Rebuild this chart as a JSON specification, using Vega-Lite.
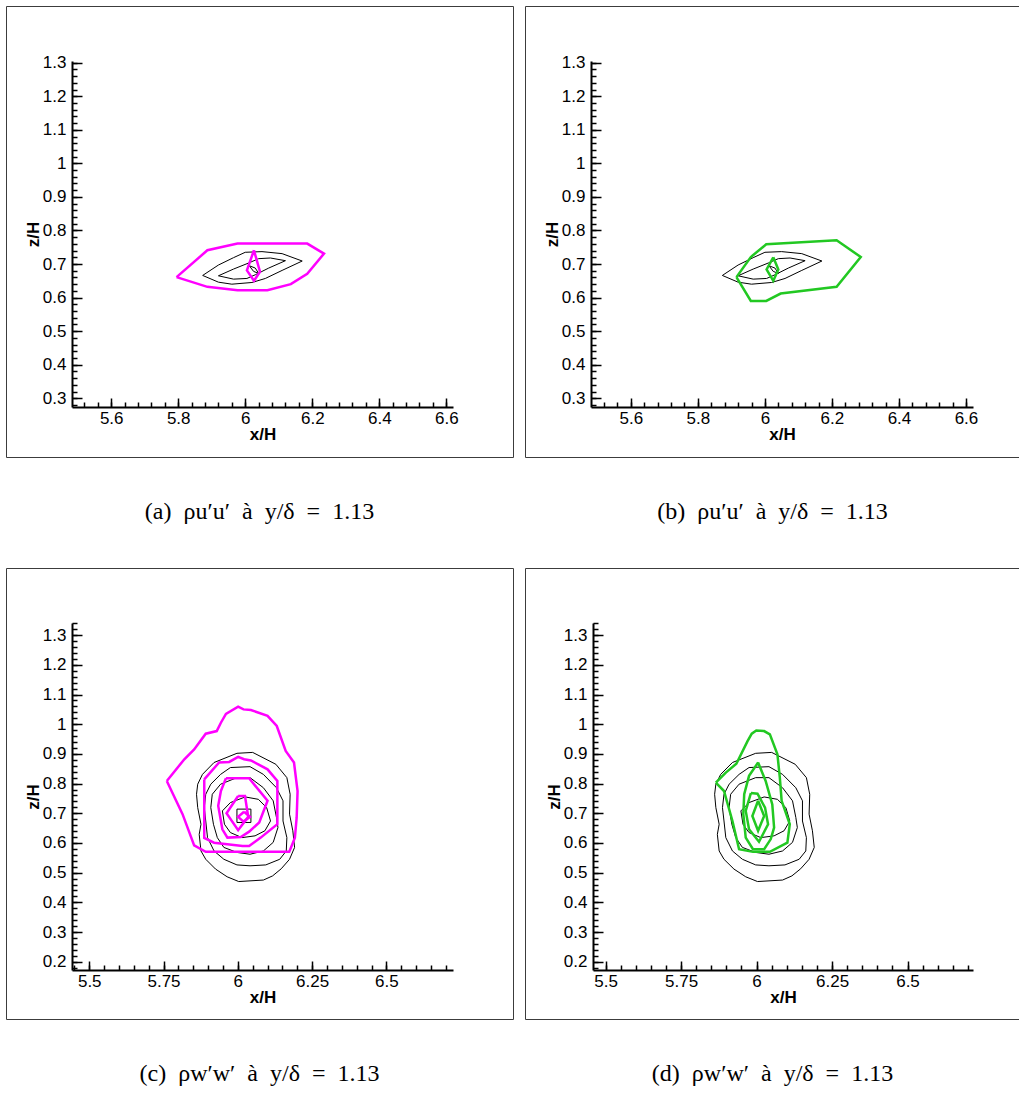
{
  "$schema": "https://vega.github.io/schema/vega-lite/v6.json",
  "padding": {"left": 5, "top": 5, "right": 0, "bottom": 0},
  "background": "white",
  "config": {
    "view": {"stroke": "#3c3c3c", "strokeWidth": 1},
    "axis": {
      "labelFont": "Liberation Sans", "labelFontSize": 17, "labelColor": "black",
      "tickColor": "black", "tickWidth": 1.5, "domainColor": "black", "domainWidth": 2,
      "titleFont": "Liberation Sans", "titleFontSize": 17, "titleFontWeight": "bold", "titleColor": "black",
      "grid": false, "labelFlush": false, "labelOverlap": false
    },
    "title": {"font": "Liberation Serif", "fontSize": 24, "fontWeight": "normal", "color": "black", "orient": "bottom", "anchor": "middle", "offset": 43}
  },
  "datasets": {
    "kTop": [
      {"c": "1", "o": 1, "x": 5.873, "z": 0.666}, {"c": "1", "o": 2, "x": 5.92, "z": 0.697}, {"c": "1", "o": 3, "x": 5.965, "z": 0.719},
      {"c": "1", "o": 4, "x": 6.0, "z": 0.735}, {"c": "1", "o": 5, "x": 6.05, "z": 0.737}, {"c": "1", "o": 6, "x": 6.11, "z": 0.731},
      {"c": "1", "o": 7, "x": 6.17, "z": 0.709}, {"c": "1", "o": 8, "x": 6.11, "z": 0.681}, {"c": "1", "o": 9, "x": 6.06, "z": 0.657},
      {"c": "1", "o": 10, "x": 6.02, "z": 0.645}, {"c": "1", "o": 11, "x": 5.96, "z": 0.64}, {"c": "1", "o": 12, "x": 5.92, "z": 0.646},
      {"c": "1", "o": 13, "x": 5.873, "z": 0.666},
      {"c": "2", "o": 1, "x": 5.92, "z": 0.665}, {"c": "2", "o": 2, "x": 5.965, "z": 0.685}, {"c": "2", "o": 3, "x": 6.01, "z": 0.703},
      {"c": "2", "o": 4, "x": 6.04, "z": 0.716}, {"c": "2", "o": 5, "x": 6.075, "z": 0.718}, {"c": "2", "o": 6, "x": 6.12, "z": 0.71},
      {"c": "2", "o": 7, "x": 6.07, "z": 0.688}, {"c": "2", "o": 8, "x": 6.03, "z": 0.668}, {"c": "2", "o": 9, "x": 6.005, "z": 0.657},
      {"c": "2", "o": 10, "x": 5.965, "z": 0.655}, {"c": "2", "o": 11, "x": 5.92, "z": 0.665},
      {"c": "3", "o": 1, "x": 6.012, "z": 0.695}, {"c": "3", "o": 2, "x": 6.03, "z": 0.688}, {"c": "3", "o": 3, "x": 6.04, "z": 0.672},
      {"c": "3", "o": 4, "x": 6.025, "z": 0.678}, {"c": "3", "o": 5, "x": 6.012, "z": 0.695}
    ],
    "mA": [
      {"c": "1", "o": 1, "x": 5.795, "z": 0.661}, {"c": "1", "o": 2, "x": 5.887, "z": 0.741}, {"c": "1", "o": 3, "x": 5.977, "z": 0.761},
      {"c": "1", "o": 4, "x": 6.185, "z": 0.761}, {"c": "1", "o": 5, "x": 6.235, "z": 0.731}, {"c": "1", "o": 6, "x": 6.185, "z": 0.671},
      {"c": "1", "o": 7, "x": 6.136, "z": 0.64}, {"c": "1", "o": 8, "x": 6.066, "z": 0.622}, {"c": "1", "o": 9, "x": 5.977, "z": 0.622},
      {"c": "1", "o": 10, "x": 5.887, "z": 0.632}, {"c": "1", "o": 11, "x": 5.795, "z": 0.661},
      {"c": "2", "o": 1, "x": 6.026, "z": 0.741}, {"c": "2", "o": 2, "x": 6.044, "z": 0.677}, {"c": "2", "o": 3, "x": 6.026, "z": 0.65},
      {"c": "2", "o": 4, "x": 6.005, "z": 0.681}, {"c": "2", "o": 5, "x": 6.026, "z": 0.741}
    ],
    "gB": [
      {"c": "1", "o": 1, "x": 5.915, "z": 0.661}, {"c": "1", "o": 2, "x": 5.958, "z": 0.721}, {"c": "1", "o": 3, "x": 6.004, "z": 0.759},
      {"c": "1", "o": 4, "x": 6.214, "z": 0.771}, {"c": "1", "o": 5, "x": 6.286, "z": 0.721}, {"c": "1", "o": 6, "x": 6.214, "z": 0.632},
      {"c": "1", "o": 7, "x": 6.047, "z": 0.612}, {"c": "1", "o": 8, "x": 6.004, "z": 0.59}, {"c": "1", "o": 9, "x": 5.958, "z": 0.59},
      {"c": "1", "o": 10, "x": 5.915, "z": 0.661},
      {"c": "2", "o": 1, "x": 6.025, "z": 0.72}, {"c": "2", "o": 2, "x": 6.04, "z": 0.684}, {"c": "2", "o": 3, "x": 6.025, "z": 0.65},
      {"c": "2", "o": 4, "x": 6.005, "z": 0.684}, {"c": "2", "o": 5, "x": 6.025, "z": 0.72}
    ],
    "kBot": [
      {"c": "1", "o": 1, "x": 5.92, "z": 0.871}, {"c": "1", "o": 2, "x": 5.997, "z": 0.902}, {"c": "1", "o": 3, "x": 6.05, "z": 0.905},
      {"c": "1", "o": 4, "x": 6.128, "z": 0.865}, {"c": "1", "o": 5, "x": 6.165, "z": 0.82}, {"c": "1", "o": 6, "x": 6.176, "z": 0.764},
      {"c": "1", "o": 7, "x": 6.174, "z": 0.697}, {"c": "1", "o": 8, "x": 6.185, "z": 0.641}, {"c": "1", "o": 9, "x": 6.191, "z": 0.585},
      {"c": "1", "o": 10, "x": 6.174, "z": 0.545}, {"c": "1", "o": 11, "x": 6.146, "z": 0.513}, {"c": "1", "o": 12, "x": 6.117, "z": 0.489},
      {"c": "1", "o": 13, "x": 6.086, "z": 0.475}, {"c": "1", "o": 14, "x": 6.003, "z": 0.47}, {"c": "1", "o": 15, "x": 5.964, "z": 0.486},
      {"c": "1", "o": 16, "x": 5.925, "z": 0.512}, {"c": "1", "o": 17, "x": 5.892, "z": 0.545}, {"c": "1", "o": 18, "x": 5.876, "z": 0.573},
      {"c": "1", "o": 19, "x": 5.87, "z": 0.629}, {"c": "1", "o": 20, "x": 5.876, "z": 0.663}, {"c": "1", "o": 21, "x": 5.865, "z": 0.719},
      {"c": "1", "o": 22, "x": 5.861, "z": 0.764}, {"c": "1", "o": 23, "x": 5.865, "z": 0.798}, {"c": "1", "o": 24, "x": 5.881, "z": 0.831},
      {"c": "1", "o": 25, "x": 5.92, "z": 0.871},
      {"c": "2", "o": 1, "x": 5.975, "z": 0.854}, {"c": "2", "o": 2, "x": 6.041, "z": 0.857}, {"c": "2", "o": 3, "x": 6.086, "z": 0.831},
      {"c": "2", "o": 4, "x": 6.13, "z": 0.786}, {"c": "2", "o": 5, "x": 6.152, "z": 0.742}, {"c": "2", "o": 6, "x": 6.152, "z": 0.674},
      {"c": "2", "o": 7, "x": 6.165, "z": 0.618}, {"c": "2", "o": 8, "x": 6.163, "z": 0.573}, {"c": "2", "o": 9, "x": 6.141, "z": 0.545},
      {"c": "2", "o": 10, "x": 6.094, "z": 0.526}, {"c": "2", "o": 11, "x": 6.041, "z": 0.523}, {"c": "2", "o": 12, "x": 5.997, "z": 0.526},
      {"c": "2", "o": 13, "x": 5.953, "z": 0.545}, {"c": "2", "o": 14, "x": 5.92, "z": 0.573}, {"c": "2", "o": 15, "x": 5.898, "z": 0.618},
      {"c": "2", "o": 16, "x": 5.892, "z": 0.674}, {"c": "2", "o": 17, "x": 5.887, "z": 0.719}, {"c": "2", "o": 18, "x": 5.892, "z": 0.764},
      {"c": "2", "o": 19, "x": 5.909, "z": 0.798}, {"c": "2", "o": 20, "x": 5.942, "z": 0.831}, {"c": "2", "o": 21, "x": 5.975, "z": 0.854},
      {"c": "3", "o": 1, "x": 5.997, "z": 0.82}, {"c": "3", "o": 2, "x": 6.041, "z": 0.82}, {"c": "3", "o": 3, "x": 6.086, "z": 0.786},
      {"c": "3", "o": 4, "x": 6.119, "z": 0.742}, {"c": "3", "o": 5, "x": 6.13, "z": 0.686}, {"c": "3", "o": 6, "x": 6.135, "z": 0.652},
      {"c": "3", "o": 7, "x": 6.119, "z": 0.602}, {"c": "3", "o": 8, "x": 6.086, "z": 0.573}, {"c": "3", "o": 9, "x": 6.041, "z": 0.562},
      {"c": "3", "o": 10, "x": 5.997, "z": 0.568}, {"c": "3", "o": 11, "x": 5.953, "z": 0.585}, {"c": "3", "o": 12, "x": 5.931, "z": 0.618},
      {"c": "3", "o": 13, "x": 5.918, "z": 0.663}, {"c": "3", "o": 14, "x": 5.909, "z": 0.719}, {"c": "3", "o": 15, "x": 5.914, "z": 0.764},
      {"c": "3", "o": 16, "x": 5.942, "z": 0.798}, {"c": "3", "o": 17, "x": 5.997, "z": 0.82},
      {"c": "4", "o": 1, "x": 5.948, "z": 0.708}, {"c": "4", "o": 2, "x": 5.975, "z": 0.736}, {"c": "4", "o": 3, "x": 6.025, "z": 0.755},
      {"c": "4", "o": 4, "x": 6.069, "z": 0.747}, {"c": "4", "o": 5, "x": 6.097, "z": 0.719}, {"c": "4", "o": 6, "x": 6.11, "z": 0.674},
      {"c": "4", "o": 7, "x": 6.091, "z": 0.641}, {"c": "4", "o": 8, "x": 6.058, "z": 0.624}, {"c": "4", "o": 9, "x": 6.014, "z": 0.618},
      {"c": "4", "o": 10, "x": 5.975, "z": 0.635}, {"c": "4", "o": 11, "x": 5.955, "z": 0.663}, {"c": "4", "o": 12, "x": 5.948, "z": 0.708}
    ],
    "sqC": [
      {"c": "1", "o": 1, "x": 5.997, "z": 0.714}, {"c": "1", "o": 2, "x": 6.044, "z": 0.714}, {"c": "1", "o": 3, "x": 6.044, "z": 0.669},
      {"c": "1", "o": 4, "x": 5.997, "z": 0.669}, {"c": "1", "o": 5, "x": 5.997, "z": 0.714}
    ],
    "mC": [
      {"c": "1", "o": 1, "x": 5.761, "z": 0.809}, {"c": "1", "o": 2, "x": 5.82, "z": 0.882}, {"c": "1", "o": 3, "x": 5.853, "z": 0.915},
      {"c": "1", "o": 4, "x": 5.892, "z": 0.968}, {"c": "1", "o": 5, "x": 5.929, "z": 0.977}, {"c": "1", "o": 6, "x": 5.943, "z": 1.005},
      {"c": "1", "o": 7, "x": 5.96, "z": 1.035}, {"c": "1", "o": 8, "x": 6.001, "z": 1.059}, {"c": "1", "o": 9, "x": 6.019, "z": 1.05},
      {"c": "1", "o": 10, "x": 6.044, "z": 1.048}, {"c": "1", "o": 11, "x": 6.1, "z": 1.028}, {"c": "1", "o": 12, "x": 6.131, "z": 0.994},
      {"c": "1", "o": 13, "x": 6.161, "z": 0.91}, {"c": "1", "o": 14, "x": 6.189, "z": 0.871}, {"c": "1", "o": 15, "x": 6.201, "z": 0.775},
      {"c": "1", "o": 16, "x": 6.198, "z": 0.686}, {"c": "1", "o": 17, "x": 6.192, "z": 0.618}, {"c": "1", "o": 18, "x": 6.173, "z": 0.57},
      {"c": "1", "o": 19, "x": 5.892, "z": 0.57}, {"c": "1", "o": 20, "x": 5.853, "z": 0.592}, {"c": "1", "o": 21, "x": 5.814, "z": 0.697},
      {"c": "1", "o": 22, "x": 5.761, "z": 0.809},
      {"c": "2", "o": 1, "x": 5.887, "z": 0.814}, {"c": "2", "o": 2, "x": 5.937, "z": 0.871}, {"c": "2", "o": 3, "x": 5.971, "z": 0.873},
      {"c": "2", "o": 4, "x": 6.001, "z": 0.89}, {"c": "2", "o": 5, "x": 6.021, "z": 0.882}, {"c": "2", "o": 6, "x": 6.044, "z": 0.878},
      {"c": "2", "o": 7, "x": 6.1, "z": 0.848}, {"c": "2", "o": 8, "x": 6.133, "z": 0.809}, {"c": "2", "o": 9, "x": 6.133, "z": 0.663},
      {"c": "2", "o": 10, "x": 6.077, "z": 0.618}, {"c": "2", "o": 11, "x": 6.038, "z": 0.59}, {"c": "2", "o": 12, "x": 6.016, "z": 0.59},
      {"c": "2", "o": 13, "x": 5.92, "z": 0.601}, {"c": "2", "o": 14, "x": 5.887, "z": 0.617}, {"c": "2", "o": 15, "x": 5.887, "z": 0.814},
      {"c": "3", "o": 1, "x": 5.96, "z": 0.818}, {"c": "3", "o": 2, "x": 6.038, "z": 0.818}, {"c": "3", "o": 3, "x": 6.1, "z": 0.742},
      {"c": "3", "o": 4, "x": 6.072, "z": 0.669}, {"c": "3", "o": 5, "x": 6.038, "z": 0.638}, {"c": "3", "o": 6, "x": 6.01, "z": 0.62},
      {"c": "3", "o": 7, "x": 5.965, "z": 0.618}, {"c": "3", "o": 8, "x": 5.948, "z": 0.646}, {"c": "3", "o": 9, "x": 5.934, "z": 0.725},
      {"c": "3", "o": 10, "x": 5.943, "z": 0.775}, {"c": "3", "o": 11, "x": 5.96, "z": 0.818},
      {"c": "4", "o": 1, "x": 6.001, "z": 0.758}, {"c": "4", "o": 2, "x": 6.024, "z": 0.758}, {"c": "4", "o": 3, "x": 6.035, "z": 0.688},
      {"c": "4", "o": 4, "x": 6.001, "z": 0.643}, {"c": "4", "o": 5, "x": 5.962, "z": 0.7}, {"c": "4", "o": 6, "x": 6.001, "z": 0.758},
      {"c": "5", "o": 1, "x": 6.021, "z": 0.705}, {"c": "5", "o": 2, "x": 6.041, "z": 0.688}, {"c": "5", "o": 3, "x": 6.019, "z": 0.672},
      {"c": "5", "o": 4, "x": 6.001, "z": 0.688}, {"c": "5", "o": 5, "x": 6.021, "z": 0.705}
    ],
    "gD": [
      {"c": "1", "o": 1, "x": 5.865, "z": 0.803}, {"c": "1", "o": 2, "x": 5.898, "z": 0.837}, {"c": "1", "o": 3, "x": 5.933, "z": 0.867},
      {"c": "1", "o": 4, "x": 5.97, "z": 0.943}, {"c": "1", "o": 5, "x": 5.984, "z": 0.968}, {"c": "1", "o": 6, "x": 5.999, "z": 0.979},
      {"c": "1", "o": 7, "x": 6.025, "z": 0.977}, {"c": "1", "o": 8, "x": 6.044, "z": 0.966}, {"c": "1", "o": 9, "x": 6.069, "z": 0.899},
      {"c": "1", "o": 10, "x": 6.077, "z": 0.82}, {"c": "1", "o": 11, "x": 6.083, "z": 0.742}, {"c": "1", "o": 12, "x": 6.11, "z": 0.663},
      {"c": "1", "o": 13, "x": 6.102, "z": 0.601}, {"c": "1", "o": 14, "x": 6.044, "z": 0.57}, {"c": "1", "o": 15, "x": 5.988, "z": 0.57},
      {"c": "1", "o": 16, "x": 5.942, "z": 0.579}, {"c": "1", "o": 17, "x": 5.92, "z": 0.674}, {"c": "1", "o": 18, "x": 5.892, "z": 0.775},
      {"c": "1", "o": 19, "x": 5.865, "z": 0.803},
      {"c": "2", "o": 1, "x": 6.005, "z": 0.871}, {"c": "2", "o": 2, "x": 6.03, "z": 0.809}, {"c": "2", "o": 3, "x": 6.052, "z": 0.73},
      {"c": "2", "o": 4, "x": 6.058, "z": 0.652}, {"c": "2", "o": 5, "x": 6.047, "z": 0.613}, {"c": "2", "o": 6, "x": 6.025, "z": 0.579},
      {"c": "2", "o": 7, "x": 5.988, "z": 0.579}, {"c": "2", "o": 8, "x": 5.964, "z": 0.618}, {"c": "2", "o": 9, "x": 5.956, "z": 0.697},
      {"c": "2", "o": 10, "x": 5.959, "z": 0.764}, {"c": "2", "o": 11, "x": 5.975, "z": 0.826}, {"c": "2", "o": 12, "x": 6.005, "z": 0.871},
      {"c": "3", "o": 1, "x": 5.981, "z": 0.768}, {"c": "3", "o": 2, "x": 6.003, "z": 0.766}, {"c": "3", "o": 3, "x": 6.028, "z": 0.719},
      {"c": "3", "o": 4, "x": 6.038, "z": 0.663}, {"c": "3", "o": 5, "x": 6.008, "z": 0.604}, {"c": "3", "o": 6, "x": 5.975, "z": 0.646},
      {"c": "3", "o": 7, "x": 5.964, "z": 0.708}, {"c": "3", "o": 8, "x": 5.981, "z": 0.768},
      {"c": "4", "o": 1, "x": 6.005, "z": 0.742}, {"c": "4", "o": 2, "x": 6.025, "z": 0.691}, {"c": "4", "o": 3, "x": 6.005, "z": 0.641},
      {"c": "4", "o": 4, "x": 5.986, "z": 0.691}, {"c": "4", "o": 5, "x": 6.005, "z": 0.742}
    ]
  },
  "concat": [
    {
      "width": 507, "height": 451,
      "title": {"text": "(a)\u2002ρu′u′\u2002à\u2002y/δ\u2002=\u20021.13"},
      "resolve": {"axis": {"x": "independent", "y": "independent"}},
      "layer": [
        {
          "data": {"name": "kTop"},
          "mark": {"type": "line", "color": "black", "strokeWidth": 1},
          "encoding": {
            "x": {"field": "x", "type": "quantitative", "scale": {"domain": [5.483, 6.62], "range": [66, 447], "zero": false, "nice": false},
              "axis": {"orient": "bottom", "offset": -50, "values": [5.6, 5.8, 6, 6.2, 6.4, 6.6], "format": ".3~g", "tickSize": -9, "labelPadding": 12, "title": "x/H", "titlePadding": 0}},
            "y": {"field": "z", "type": "quantitative", "scale": {"domain": [0.274, 1.305], "range": [401, 55], "zero": false, "nice": false},
              "axis": {"orient": "left", "offset": -66, "values": [0.3, 0.4, 0.5, 0.6, 0.7, 0.8, 0.9, 1, 1.1, 1.2, 1.3], "format": ".3~g", "tickSize": -10, "labelPadding": 16, "title": "z/H", "titlePadding": 0}},
            "detail": {"field": "c", "type": "nominal"},
            "order": {"field": "o", "type": "quantitative"}
          }
        },
        {
          "data": {"name": "mA"},
          "mark": {"type": "line", "color": "#ff00ff", "strokeWidth": 2.5},
          "encoding": {
            "x": {"field": "x", "type": "quantitative", "scale": {"domain": [5.483, 6.62], "range": [66, 447], "zero": false, "nice": false},
              "axis": {"orient": "bottom", "offset": -50, "values": [5.52, 5.56, 5.6, 5.64, 5.68, 5.72, 5.76, 5.8, 5.84, 5.88, 5.92, 5.96, 6, 6.04, 6.08, 6.12, 6.16, 6.2, 6.24, 6.28, 6.32, 6.36, 6.4, 6.44, 6.48, 6.52, 6.56, 6.6], "tickSize": -5, "labels": false, "domain": false, "title": null}},
            "y": {"field": "z", "type": "quantitative", "scale": {"domain": [0.274, 1.305], "range": [401, 55], "zero": false, "nice": false},
              "axis": {"orient": "left", "offset": -66, "values": [0.28, 0.3, 0.32, 0.34, 0.36, 0.38, 0.4, 0.42, 0.44, 0.46, 0.48, 0.5, 0.52, 0.54, 0.56, 0.58, 0.6, 0.62, 0.64, 0.66, 0.68, 0.7, 0.72, 0.74, 0.76, 0.78, 0.8, 0.82, 0.84, 0.86, 0.88, 0.9, 0.92, 0.94, 0.96, 0.98, 1, 1.02, 1.04, 1.06, 1.08, 1.1, 1.12, 1.14, 1.16, 1.18, 1.2, 1.22, 1.24, 1.26, 1.28, 1.3], "tickSize": -5, "labels": false, "domain": false, "title": null}},
            "detail": {"field": "c", "type": "nominal"},
            "order": {"field": "o", "type": "quantitative"}
          }
        }
      ]
    },
    {
      "width": 495, "height": 451,
      "title": {"text": "(b)\u2002ρu′u′\u2002à\u2002y/δ\u2002=\u20021.13"},
      "resolve": {"axis": {"x": "independent", "y": "independent"}},
      "layer": [
        {
          "data": {"name": "kTop"},
          "mark": {"type": "line", "color": "black", "strokeWidth": 1},
          "encoding": {
            "x": {"field": "x", "type": "quantitative", "scale": {"domain": [5.481, 6.621], "range": [66, 448], "zero": false, "nice": false},
              "axis": {"orient": "bottom", "offset": -50, "values": [5.6, 5.8, 6, 6.2, 6.4, 6.6], "format": ".3~g", "tickSize": -9, "labelPadding": 12, "title": "x/H", "titlePadding": 0}},
            "y": {"field": "z", "type": "quantitative", "scale": {"domain": [0.274, 1.305], "range": [401, 55], "zero": false, "nice": false},
              "axis": {"orient": "left", "offset": -66, "values": [0.3, 0.4, 0.5, 0.6, 0.7, 0.8, 0.9, 1, 1.1, 1.2, 1.3], "format": ".3~g", "tickSize": -10, "labelPadding": 16, "title": "z/H", "titlePadding": 0}},
            "detail": {"field": "c", "type": "nominal"},
            "order": {"field": "o", "type": "quantitative"}
          }
        },
        {
          "data": {"name": "gB"},
          "mark": {"type": "line", "color": "#22c822", "strokeWidth": 2.5},
          "encoding": {
            "x": {"field": "x", "type": "quantitative", "scale": {"domain": [5.481, 6.621], "range": [66, 448], "zero": false, "nice": false},
              "axis": {"orient": "bottom", "offset": -50, "values": [5.52, 5.56, 5.6, 5.64, 5.68, 5.72, 5.76, 5.8, 5.84, 5.88, 5.92, 5.96, 6, 6.04, 6.08, 6.12, 6.16, 6.2, 6.24, 6.28, 6.32, 6.36, 6.4, 6.44, 6.48, 6.52, 6.56, 6.6], "tickSize": -5, "labels": false, "domain": false, "title": null}},
            "y": {"field": "z", "type": "quantitative", "scale": {"domain": [0.274, 1.305], "range": [401, 55], "zero": false, "nice": false},
              "axis": {"orient": "left", "offset": -66, "values": [0.28, 0.3, 0.32, 0.34, 0.36, 0.38, 0.4, 0.42, 0.44, 0.46, 0.48, 0.5, 0.52, 0.54, 0.56, 0.58, 0.6, 0.62, 0.64, 0.66, 0.68, 0.7, 0.72, 0.74, 0.76, 0.78, 0.8, 0.82, 0.84, 0.86, 0.88, 0.9, 0.92, 0.94, 0.96, 0.98, 1, 1.02, 1.04, 1.06, 1.08, 1.1, 1.12, 1.14, 1.16, 1.18, 1.2, 1.22, 1.24, 1.26, 1.28, 1.3], "tickSize": -5, "labels": false, "domain": false, "title": null}},
            "detail": {"field": "c", "type": "nominal"},
            "order": {"field": "o", "type": "quantitative"}
          }
        }
      ]
    },
    {
      "width": 507, "height": 451,
      "title": {"text": "(c)\u2002ρw′w′\u2002à\u2002y/δ\u2002=\u20021.13"},
      "resolve": {"axis": {"x": "independent", "y": "independent"}},
      "layer": [
        {
          "data": {"name": "kBot"},
          "mark": {"type": "line", "color": "black", "strokeWidth": 1},
          "encoding": {
            "x": {"field": "x", "type": "quantitative", "scale": {"domain": [5.442, 6.724], "range": [66, 447], "zero": false, "nice": false},
              "axis": {"orient": "bottom", "offset": -49, "values": [5.5, 5.75, 6, 6.25, 6.5], "format": ".3~g", "tickSize": -9, "labelPadding": 12, "title": "x/H", "titlePadding": 0}},
            "y": {"field": "z", "type": "quantitative", "scale": {"domain": [0.172, 1.341], "range": [402, 55], "zero": false, "nice": false},
              "axis": {"orient": "left", "offset": -66, "values": [0.2, 0.3, 0.4, 0.5, 0.6, 0.7, 0.8, 0.9, 1, 1.1, 1.2, 1.3], "format": ".3~g", "tickSize": -10, "labelPadding": 16, "title": "z/H", "titlePadding": 0}},
            "detail": {"field": "c", "type": "nominal"},
            "order": {"field": "o", "type": "quantitative"}
          }
        },
        {
          "data": {"name": "sqC"},
          "mark": {"type": "line", "color": "black", "strokeWidth": 1},
          "encoding": {
            "x": {"field": "x", "type": "quantitative", "scale": {"domain": [5.442, 6.724], "range": [66, 447], "zero": false, "nice": false}, "axis": null},
            "y": {"field": "z", "type": "quantitative", "scale": {"domain": [0.172, 1.341], "range": [402, 55], "zero": false, "nice": false}, "axis": null},
            "detail": {"field": "c", "type": "nominal"},
            "order": {"field": "o", "type": "quantitative"}
          }
        },
        {
          "data": {"name": "mC"},
          "mark": {"type": "line", "color": "#ff00ff", "strokeWidth": 2.5},
          "encoding": {
            "x": {"field": "x", "type": "quantitative", "scale": {"domain": [5.442, 6.724], "range": [66, 447], "zero": false, "nice": false},
              "axis": {"orient": "bottom", "offset": -49, "values": [5.45, 5.5, 5.55, 5.6, 5.65, 5.7, 5.75, 5.8, 5.85, 5.9, 5.95, 6, 6.05, 6.1, 6.15, 6.2, 6.25, 6.3, 6.35, 6.4, 6.45, 6.5, 6.55, 6.6, 6.65, 6.7], "tickSize": -5, "labels": false, "domain": false, "title": null}},
            "y": {"field": "z", "type": "quantitative", "scale": {"domain": [0.172, 1.341], "range": [402, 55], "zero": false, "nice": false},
              "axis": {"orient": "left", "offset": -66, "values": [0.18, 0.2, 0.22, 0.24, 0.26, 0.28, 0.3, 0.32, 0.34, 0.36, 0.38, 0.4, 0.42, 0.44, 0.46, 0.48, 0.5, 0.52, 0.54, 0.56, 0.58, 0.6, 0.62, 0.64, 0.66, 0.68, 0.7, 0.72, 0.74, 0.76, 0.78, 0.8, 0.82, 0.84, 0.86, 0.88, 0.9, 0.92, 0.94, 0.96, 0.98, 1, 1.02, 1.04, 1.06, 1.08, 1.1, 1.12, 1.14, 1.16, 1.18, 1.2, 1.22, 1.24, 1.26, 1.28, 1.3, 1.32, 1.34], "tickSize": -5, "labels": false, "domain": false, "title": null}},
            "detail": {"field": "c", "type": "nominal"},
            "order": {"field": "o", "type": "quantitative"}
          }
        }
      ]
    },
    {
      "width": 495, "height": 451,
      "title": {"text": "(d)\u2002ρw′w′\u2002à\u2002y/δ\u2002=\u20021.13"},
      "resolve": {"axis": {"x": "independent", "y": "independent"}},
      "layer": [
        {
          "data": {"name": "kBot"},
          "mark": {"type": "line", "color": "black", "strokeWidth": 1},
          "encoding": {
            "x": {"field": "x", "type": "quantitative", "scale": {"domain": [5.458, 6.717], "range": [68, 448], "zero": false, "nice": false},
              "axis": {"orient": "bottom", "offset": -49, "values": [5.5, 5.75, 6, 6.25, 6.5], "format": ".3~g", "tickSize": -9, "labelPadding": 12, "title": "x/H", "titlePadding": 0}},
            "y": {"field": "z", "type": "quantitative", "scale": {"domain": [0.172, 1.341], "range": [402, 55], "zero": false, "nice": false},
              "axis": {"orient": "left", "offset": -68, "values": [0.2, 0.3, 0.4, 0.5, 0.6, 0.7, 0.8, 0.9, 1, 1.1, 1.2, 1.3], "format": ".3~g", "tickSize": -10, "labelPadding": 16, "title": "z/H", "titlePadding": 0}},
            "detail": {"field": "c", "type": "nominal"},
            "order": {"field": "o", "type": "quantitative"}
          }
        },
        {
          "data": {"name": "gD"},
          "mark": {"type": "line", "color": "#22c822", "strokeWidth": 2.5},
          "encoding": {
            "x": {"field": "x", "type": "quantitative", "scale": {"domain": [5.458, 6.717], "range": [68, 448], "zero": false, "nice": false},
              "axis": {"orient": "bottom", "offset": -49, "values": [5.5, 5.55, 5.6, 5.65, 5.7, 5.75, 5.8, 5.85, 5.9, 5.95, 6, 6.05, 6.1, 6.15, 6.2, 6.25, 6.3, 6.35, 6.4, 6.45, 6.5, 6.55, 6.6, 6.65, 6.7], "tickSize": -5, "labels": false, "domain": false, "title": null}},
            "y": {"field": "z", "type": "quantitative", "scale": {"domain": [0.172, 1.341], "range": [402, 55], "zero": false, "nice": false},
              "axis": {"orient": "left", "offset": -68, "values": [0.18, 0.2, 0.22, 0.24, 0.26, 0.28, 0.3, 0.32, 0.34, 0.36, 0.38, 0.4, 0.42, 0.44, 0.46, 0.48, 0.5, 0.52, 0.54, 0.56, 0.58, 0.6, 0.62, 0.64, 0.66, 0.68, 0.7, 0.72, 0.74, 0.76, 0.78, 0.8, 0.82, 0.84, 0.86, 0.88, 0.9, 0.92, 0.94, 0.96, 0.98, 1, 1.02, 1.04, 1.06, 1.08, 1.1, 1.12, 1.14, 1.16, 1.18, 1.2, 1.22, 1.24, 1.26, 1.28, 1.3, 1.32, 1.34], "tickSize": -5, "labels": false, "domain": false, "title": null}},
            "detail": {"field": "c", "type": "nominal"},
            "order": {"field": "o", "type": "quantitative"}
          }
        }
      ]
    }
  ],
  "columns": 2,
  "spacing": {"row": 111, "column": 12},
  "bounds": "flush"
}
